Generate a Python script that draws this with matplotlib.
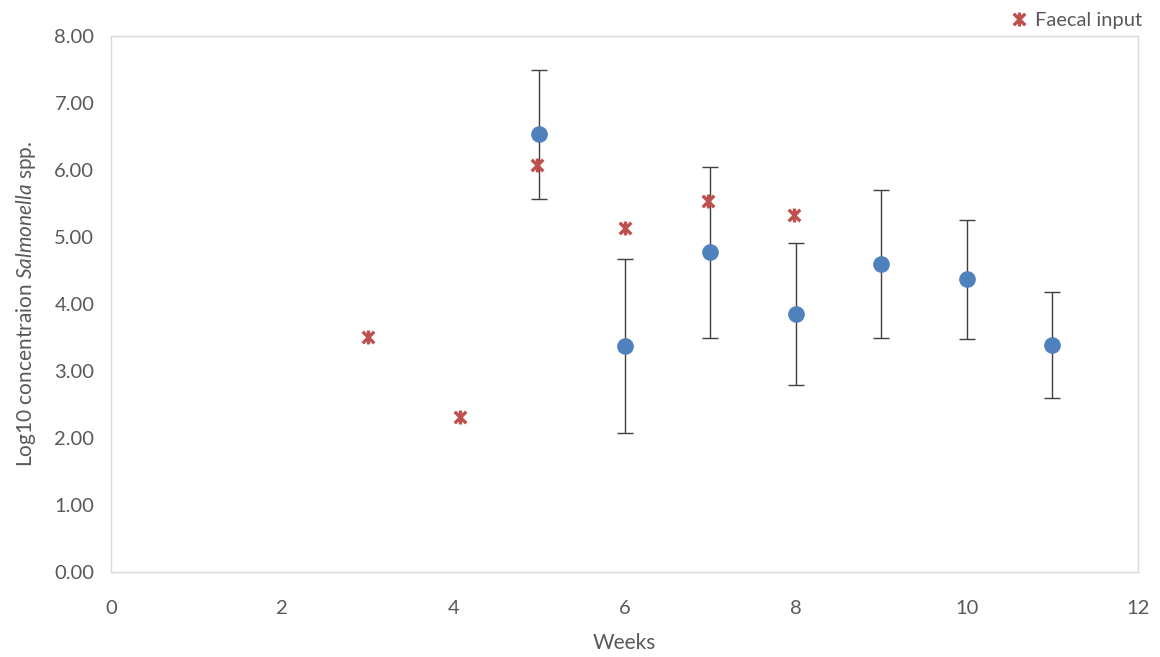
import matplotlib
matplotlib.use("Agg")
import matplotlib.pyplot as plt
from matplotlib.path import Path
import numpy as np

plt.rcParams['font.family'] = ['Lato', 'DejaVu Sans']
plt.rcParams['mathtext.fontset'] = 'custom'
plt.rcParams['mathtext.rm'] = 'Lato'
plt.rcParams['mathtext.it'] = 'Lato:italic'

# Data
weeks_mean = [5, 6, 7, 8, 9, 10, 11]
mean_conc = [6.53, 3.37, 4.77, 3.85, 4.60, 4.37, 3.39]
sd_conc = [0.97, 1.30, 1.27, 1.06, 1.10, 0.89, 0.79]

weeks_faecal = [3, 4.08, 4.98, 6, 6.97, 7.98]
faecal_conc = [3.51, 2.31, 6.07, 5.13, 5.54, 5.33]

x_ticks = [0, 2, 4, 6, 8, 10, 12]
y_ticks = [0, 1, 2, 3, 4, 5, 6, 7, 8]

blue = '#4F81BD'
red = '#C0504D'
gray = '#595959'

# Excel-like star marker: X plus vertical line
star = Path([(-1, -1), (1, 1), (-1, 1), (1, -1), (0, -1.2), (0, 1.2)],
            [Path.MOVETO, Path.LINETO, Path.MOVETO, Path.LINETO, Path.MOVETO, Path.LINETO])

fig = plt.figure(figsize=(11.6, 6.57), dpi=100)
ax = fig.add_axes([111/1160, 85/657, (1138-111)/1160, (572-36)/657])

ax.errorbar(weeks_mean, mean_conc, yerr=sd_conc, fmt='none', ecolor='#404040',
            elinewidth=1.0, capsize=6, capthick=1.0, zorder=2)
ax.plot(weeks_mean, mean_conc, 'o', color=blue, markersize=11, zorder=3, linestyle='none')
ax.plot(weeks_faecal, faecal_conc, marker=star, color=red, markersize=10, markeredgewidth=2.4,
        linestyle='none', zorder=4, label='Faecal input')

ax.set_xlim(0, 12)
ax.set_ylim(0, 8)
ax.set_xticks(x_ticks)
ax.set_yticks(y_ticks)
ax.set_yticklabels(['%.2f' % v for v in y_ticks])
ax.tick_params(length=0, labelsize=14.5, labelcolor=gray, pad=12)
ax.tick_params(axis='x', pad=20)
for s in ax.spines.values():
    s.set_color('#D9D9D9')
    s.set_linewidth(1.0)

ax.set_xlabel('Weeks', fontsize=15, color=gray, labelpad=12)
ax.set_ylabel('Log10 concentraion $\\mathit{Salmonella}$ spp.', fontsize=15, color=gray, labelpad=12)

fig.legend(loc='upper right', bbox_to_anchor=(1.0, 1.01), frameon=False,
           fontsize=14.5, handlelength=0.8, handletextpad=0.4, labelcolor=gray)

fig.savefig('out.png', dpi=100)
